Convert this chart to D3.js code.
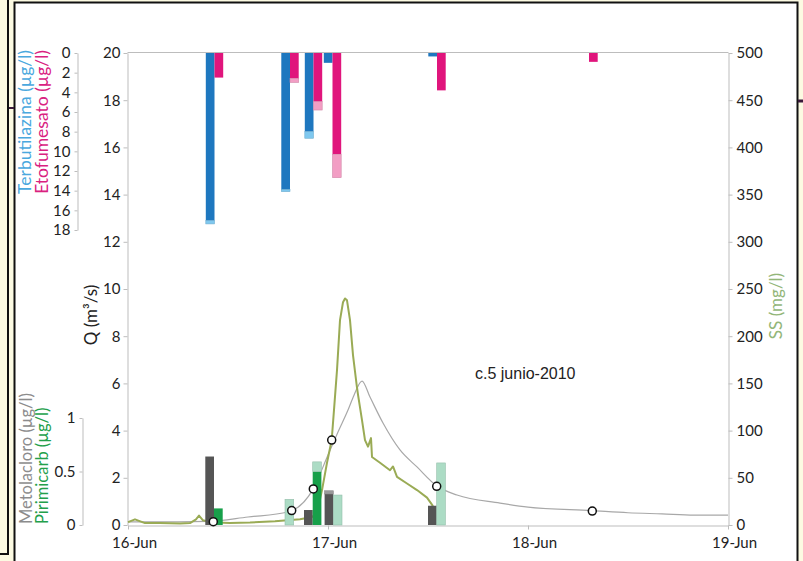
<!DOCTYPE html>
<html>
<head>
<meta charset="utf-8">
<script src="https://cdn.jsdelivr.net/npm/d3@7"></script>
<style>
body { margin: 0; background: #fcfae2; }
text { font-family: Lato, sans-serif; }
</style>
</head>
<body>
<script>
// times are in days after 16-Jun-2010 00:00
var dayLabels = ["16-Jun", "17-Jun", "18-Jun", "19-Jun"];

var qTime = [0, 0.25, 0.4, 0.6, 0.8, 0.926, 1.0, 1.05, 1.1, 1.13, 1.17, 1.21, 1.275, 1.36, 1.445, 1.545, 1.645, 1.86, 2.0, 2.32, 2.5, 2.67, 2.83, 3.0];
var qVal  = [0.13, 0.13, 0.15, 0.34, 0.55, 1.53, 2.97, 3.94, 4.87, 5.5, 6.1, 5.42, 4.32, 3.18, 2.46, 1.65, 1.27, 0.93, 0.76, 0.61, 0.52, 0.47, 0.42, 0.42];

var ssTime = [0, 0.035, 0.085, 0.16, 0.26, 0.31, 0.34, 0.355, 0.375, 0.41, 0.51, 0.61, 0.735, 0.86, 0.92, 0.945, 0.97, 0.995, 1.0185, 1.03, 1.045, 1.06, 1.075, 1.085, 1.095, 1.11, 1.125, 1.1435, 1.15, 1.17, 1.185, 1.2, 1.215, 1.22, 1.26, 1.31, 1.325, 1.345, 1.395, 1.445, 1.495, 1.525];
var ssVal  = [3, 6, 2, 2, 1.6, 2, 6, 10, 5, 3, 2, 2.6, 4, 6, 8.5, 12.7, 37, 66, 90, 122, 164, 217, 236, 240, 238, 217, 180, 148, 138, 111, 90, 83, 92, 72, 66, 58, 62, 51, 44, 37, 29, 20];

// upper panel: terbutilazina / etofumesato (ug/l), dark part + light part
var topTime   = [0.4325, 0.81, 0.9275, 1.0225, 1.545, 2.305];
var terbDark  = [17.05, 13.9, 8.0, 1.0, 0.35, 0];
var terbLight = [0.33, 0.2, 0.67, 0, 0, 0];
var etofDark  = [2.5, 2.6, 4.95, 10.3, 3.8, 0.9];
var etofLight = [0, 0.4, 0.85, 2.38, 0, 0];

// lower panel: metolacloro / pirimicarb (ug/l)
var botTime    = [0.43, 0.785, 0.9235, 1.0265, 1.5435];
var metoDark   = [0.64, 0, 0.14, 0.29, 0.18];
var metoLight  = [0, 0, 0, 0.03, 0];
var pirimDark  = [0.155, 0, 0.5, 0, 0];
var pirimLight = [0, 0.24, 0.09, 0.28, 0.58];

// sampling points on the hydrograph
var sampTime = [0.4265, 0.8185, 0.9265, 1.0185, 1.5435, 2.3215];
var sampQ    = [0.14, 0.61, 1.53, 3.6, 1.64, 0.59];

var qTicks   = d3.range(0, 21, 2);
var ssTicks  = d3.range(0, 501, 50);
var topTicks = d3.range(0, 19, 2);
var botTicks = [0, 0.5, 1];

var W = 803, H = 561;
var t0 = Date.UTC(2010, 5, 16);
function toDate(t) { return new Date(t0 + t * 864e5); }

var svg = d3.select("body").append("svg")
    .attr("width", W)
    .attr("height", H);

// frame
svg.append("rect").attr("x", 15).attr("y", 3).attr("width", 782).attr("height", H).attr("fill", "#fff");
svg.append("path").attr("d", "M8,0V554H0").attr("fill", "none").attr("stroke", "#111").attr("stroke-width", 2);
svg.append("path").attr("d", "M14.5,561V2.5H797.5V561").attr("fill", "none").attr("stroke", "#111").attr("stroke-width", 2);
svg.append("path").attr("d", "M9,108H14").attr("stroke", "#3a1a3a").attr("stroke-width", 2);
svg.append("path").attr("d", "M798,101H803").attr("stroke", "#3a1a3a").attr("stroke-width", 3);

var x = d3.scaleUtc()
    .domain([toDate(0), toDate(3)])
    .range([128, 728]);

var yQ = d3.scaleLinear().domain([0, 20]).range([525, 53]);
var yS = d3.scaleLinear().domain([0, 500]).range([525, 53]);
var yTop = d3.scaleLinear().domain([0, 18]).range([53, 230]);
var yBot = d3.scaleLinear().domain([0, 1]).range([525, 418]);

var axisCol = "#bdbdbd";

function styleAxis(g) {
  g.selectAll(".domain").attr("stroke", axisCol);
  g.selectAll(".tick line").attr("stroke", axisCol);
  g.selectAll(".tick text").attr("fill", "#222").style("font-size", "15px").style("font-family", "Lato, sans-serif");
}

// frame lines of the plot
svg.append("line").attr("x1", 127.5).attr("x2", 728.5).attr("y1", 52.5).attr("y2", 52.5).attr("stroke", axisCol);

svg.append("g")
    .attr("transform", "translate(127.5,0)")
    .call(d3.axisLeft(yQ).tickValues(qTicks).tickSize(4).tickSizeOuter(0).tickPadding(3))
    .call(styleAxis);

svg.append("g")
    .attr("transform", "translate(728.5,0)")
    .call(d3.axisRight(yS).tickValues(ssTicks).tickSize(4).tickSizeOuter(0).tickPadding(4))
    .call(styleAxis);

var xAxis = svg.append("g")
    .attr("transform", "translate(0,525.5)")
    .call(d3.axisBottom(x).ticks(d3.utcDay.every(1)).tickFormat(function(d, i) { return dayLabels[i]; }).tickSize(4).tickSizeOuter(0).tickPadding(8))
    .call(styleAxis);
xAxis.selectAll(".tick text").attr("dx", 6);

svg.append("g")
    .attr("transform", "translate(77.5,0)")
    .call(d3.axisLeft(yTop).tickValues(topTicks).tickSize(3).tickSizeOuter(0).tickPadding(4))
    .call(styleAxis);

svg.append("g")
    .attr("transform", "translate(82.5,0)")
    .call(d3.axisLeft(yBot).tickValues(botTicks).tickFormat(d3.format("~g")).tickSize(3).tickSizeOuter(0).tickPadding(4))
    .call(styleAxis);

// lines
var qData = qTime.map(function(t, i) { return { t: t, v: qVal[i] }; });
var ssData = ssTime.map(function(t, i) { return { t: t, v: ssVal[i] }; });

svg.append("path")
    .datum(qData)
    .attr("fill", "none")
    .attr("stroke", "#a8a8a8")
    .attr("stroke-width", 1.2)
    .attr("d", d3.line().curve(d3.curveMonotoneX).x(function(d) { return x(toDate(d.t)); }).y(function(d) { return yQ(d.v); }));

svg.append("path")
    .datum(ssData)
    .attr("fill", "none")
    .attr("stroke", "#9aab55")
    .attr("stroke-width", 2)
    .attr("stroke-linejoin", "round")
    .attr("d", d3.line().x(function(d) { return x(toDate(d.t)); }).y(function(d) { return yS(d.v); }));

// bars
var bw = 8.7;

function stackBars(times, dark, light, scale, side, cDark, cLight) {
  times.forEach(function(t, i) {
    var x0 = side < 0 ? x(toDate(t)) - bw : x(toDate(t));
    var z = scale(0), a = scale(dark[i]), b = scale(dark[i] + light[i]);
    if (dark[i] > 0) {
      svg.append("rect").attr("x", x0).attr("width", bw)
        .attr("y", Math.min(z, a)).attr("height", Math.abs(a - z))
        .attr("fill", cDark);
    }
    if (light[i] > 0) {
      svg.append("rect").attr("x", x0).attr("width", bw)
        .attr("y", Math.min(a, b)).attr("height", Math.abs(b - a))
        .attr("fill", cLight).attr("stroke", d3.color(cLight).darker(0.4)).attr("stroke-width", 0.6);
    }
  });
}

stackBars(topTime, terbDark, terbLight, yTop, -1, "#1e77bf", "#7fc8ef");
stackBars(topTime, etofDark, etofLight, yTop, 1, "#e0157c", "#f29ec4");
stackBars(botTime, metoDark, metoLight, yBot, -1, "#555555", "#999999");
stackBars(botTime, pirimDark, pirimLight, yBot, 1, "#17a04a", "#acdcc5");

// sampling circles
svg.selectAll(".samp")
    .data(sampTime)
    .enter()
    .append("circle")
    .attr("class", "samp")
    .attr("cx", function(d) { return x(toDate(d)); })
    .attr("cy", function(d, i) { return yQ(sampQ[i]); })
    .attr("r", 4)
    .attr("fill", "#fff")
    .attr("stroke", "#111")
    .attr("stroke-width", 1.5);

// labels
function vlabel(tx, ty, txt, col, anchor, size) {
  svg.append("text")
    .attr("transform", "translate(" + tx + "," + ty + ") rotate(-90)")
    .attr("text-anchor", anchor)
    .attr("fill", col)
    .style("font-size", size + "px")
    .text(txt);
}

vlabel(31, 50, "Terbutilazina (\u00b5g/l)", "#4aa8de", "end", 17.5);
vlabel(48, 50, "Etofumesato (\u00b5g/l)", "#d9217f", "end", 17.5);
vlabel(32, 524, "Metolacloro (\u00b5g/l)", "#8c8c8c", "start", 16.5);
vlabel(48, 524, "Pirimicarb (\u00b5g/l)", "#23a04b", "start", 16.5);
vlabel(97, 315, "Q (m\u00b3/s)", "#222", "middle", 17);
vlabel(782, 306, "SS (mg/l)", "#93b679", "middle", 17);

svg.append("text")
    .attr("x", 475)
    .attr("y", 379)
    .attr("fill", "#222")
    .style("font-family", "'Liberation Sans', Arial, sans-serif")
    .style("font-size", "16px")
    .text("c.5 junio-2010");
</script>
</body>
</html>
